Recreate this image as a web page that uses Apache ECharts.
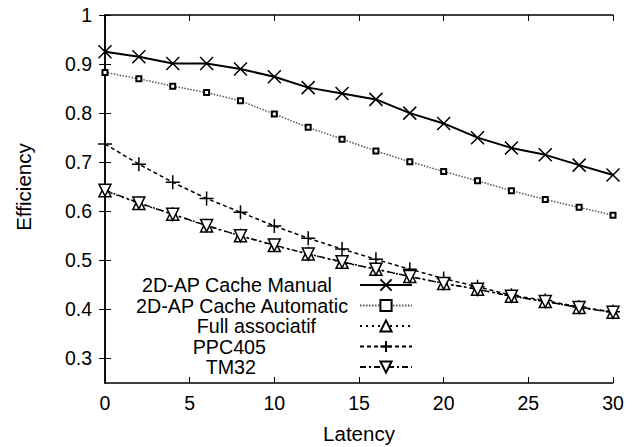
<!DOCTYPE html>
<html>
<head>
<meta charset="utf-8">
<script src="https://cdn.jsdelivr.net/npm/echarts@6/dist/echarts.min.js"></script>
<style>
  html, body { margin: 0; padding: 0; background: #fff; }
  #chart { width: 640px; height: 447px; }
</style>
</head>
<body>
<div id="chart"></div>
<script>
// Values.
const latency = [0, 2, 4, 6, 8, 10, 12, 14, 16, 18, 20, 22, 24, 26, 28, 30];
const manual = [0.925, 0.915, 0.901, 0.901, 0.890, 0.874, 0.852, 0.840, 0.828, 0.800, 0.779, 0.750, 0.729, 0.715, 0.694, 0.674];
const automatic = [0.883, 0.870, 0.855, 0.842, 0.825, 0.798, 0.771, 0.747, 0.723, 0.701, 0.681, 0.662, 0.642, 0.624, 0.608, 0.592];
const fullAssoc = [0.642, 0.616, 0.594, 0.570, 0.550, 0.530, 0.513, 0.496, 0.482, 0.467, 0.453, 0.441, 0.427, 0.416, 0.404, 0.394];
const ppc405 = [0.737, 0.696, 0.659, 0.626, 0.598, 0.570, 0.545, 0.523, 0.502, 0.482, 0.463, 0.446, 0.429, 0.418, 0.405, 0.395];
const tm32 = [0.643, 0.617, 0.594, 0.571, 0.550, 0.531, 0.513, 0.497, 0.482, 0.467, 0.453, 0.441, 0.427, 0.416, 0.404, 0.394];
const yTicks = [0.3, 0.4, 0.5, 0.6, 0.7, 0.8, 0.9, 1];
const seriesNames = ["2D-AP Cache Manual", "2D-AP Cache Automatic", "Full associatif", "PPC405", "TM32"];

const FONT = "Liberation Sans";
const CROSS = "path://M0,0L10,10M10,0L0,10";
const PLUS = "path://M5,0L5,10M0,5L10,5";
const TRI_DOWN = "path://M0,0L10,0L5,9Z";

// Pair x values with a series' y values.
function pairs(values) {
    return latency.map((x, i) => [x, values[i]]);
}

// Build one line series in the gnuplot look.
function lineSeries(name, values, symbol, size, lineStyle, itemStyle) {
    return {
        name: name,
        type: "line",
        data: pairs(values),
        symbol: symbol,
        symbolSize: size,
        showAllSymbol: true,
        lineStyle: lineStyle,
        itemStyle: itemStyle,
        emphasis: { disabled: true },
        animation: false
    };
}

// Rich style for one legend label, padded on the right so the text ends where gnuplot put it.
function keyText(padRight) {
    return { fontSize: 19.7, fontFamily: FONT, color: "#000", padding: [0, padRight, 0, 0] };
}

const hollow = { color: "#fff", borderColor: "#000", borderWidth: 1.5 };
const stroked = { color: "none", borderColor: "#000", borderWidth: 1.5 };

const mirrorAxis = {
    axisLine: { show: true, lineStyle: { color: "#000", width: 1.5 } },
    axisTick: { inside: true, length: 6, lineStyle: { color: "#000", width: 1 } },
    axisLabel: { show: false },
    splitLine: { show: false }
};

const chart = echarts.init(document.getElementById("chart"), null, { renderer: "svg" });
chart.setOption({
    backgroundColor: "#fff",
    textStyle: { fontFamily: FONT },
    grid: { left: 105, right: 27, top: 15, bottom: 64, outerBoundsMode: "none", containLabel: false },
    legend: {
        data: seriesNames,
        orient: "vertical",
        align: "right",
        right: 227,
        top: 275,
        padding: 0,
        itemWidth: 52,
        itemHeight: 14,
        itemGap: 0.5,
        selectedMode: false,
        formatter: name => `{p${seriesNames.indexOf(name)}|${name}}`,
        textStyle: {
            color: "#000",
            fontFamily: FONT,
            fontSize: 19.7,
            rich: {
                p0: keyText(23),
                p1: keyText(7),
                p2: keyText(39),
                p3: keyText(89),
                p4: keyText(99)
            }
        }
    },
    xAxis: [
        {
            type: "value",
            min: 0,
            max: 30,
            interval: 5,
            name: "Latency",
            nameLocation: "middle",
            nameGap: 40,
            nameTextStyle: { color: "#000", fontSize: 20.5, fontFamily: FONT },
            axisLine: { show: true, lineStyle: { color: "#000", width: 1.5 } },
            axisTick: { inside: true, length: 6, lineStyle: { color: "#000", width: 1 } },
            axisLabel: { color: "#000", fontSize: 19.5, fontFamily: FONT, margin: 10 },
            splitLine: { show: false }
        },
        Object.assign({ type: "value", position: "top", min: 0, max: 30, interval: 5 }, mirrorAxis)
    ],
    yAxis: [
        {
            type: "value",
            min: 0.25,
            max: 1,
            name: "Efficiency",
            nameLocation: "middle",
            nameGap: 71,
            nameRotate: 90,
            nameTextStyle: { color: "#000", fontSize: 20.5, fontFamily: FONT, padding: [0, 0, 0, 24] },
            axisLine: { show: true, lineStyle: { color: "#000", width: 1.5 } },
            axisTick: { inside: true, length: 6, customValues: yTicks, lineStyle: { color: "#000", width: 1 } },
            axisLabel: { color: "#000", fontSize: 19.5, fontFamily: FONT, margin: 13, customValues: yTicks },
            splitLine: { show: false }
        },
        Object.assign({
            type: "value", position: "right", min: 0.25, max: 1
        }, mirrorAxis, {
            axisTick: { inside: true, length: 6, customValues: yTicks, lineStyle: { color: "#000", width: 1 } },
            axisLabel: { show: false, customValues: yTicks }
        })
    ],
    series: [
        lineSeries(seriesNames[0], manual, CROSS, 13, { color: "#000", width: 2, type: "solid" }, stroked),
        lineSeries(seriesNames[1], automatic, "rect", 5, { color: "#555", width: 1.5, type: [1.5, 1.5] }, { color: "#fff", borderColor: "#000", borderWidth: 2 }),
        lineSeries(seriesNames[2], fullAssoc, "triangle", 12, { color: "#000", width: 1.5, type: [2, 4] }, hollow),
        lineSeries(seriesNames[3], ppc405, PLUS, 14, { color: "#000", width: 1.5, type: [4, 3] }, stroked),
        lineSeries(seriesNames[4], tm32, TRI_DOWN, 12, { color: "#000", width: 1.5, type: [6, 3, 2, 3] }, hollow)
    ]
});
</script>
</body>
</html>
